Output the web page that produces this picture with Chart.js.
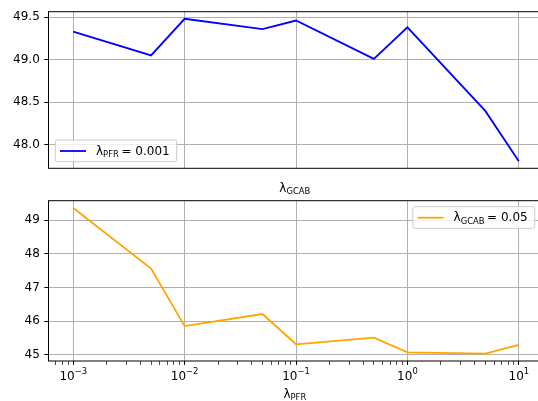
<!DOCTYPE html>
<html>
<head>
<meta charset="utf-8">
<script src="https://cdn.jsdelivr.net/npm/chart.js@4.4.1/dist/chart.umd.min.js"></script>
<style>
html, body { margin: 0; padding: 0; background: #fff; overflow: hidden; }
#marco { position: relative; width: 538px; height: 401px; overflow: hidden; }
canvas { position: absolute; left: 0; top: 0; }
</style>
</head>
<body>
<div id="marco">
  <canvas id="graficaArriba" width="545" height="401"></canvas>
  <canvas id="graficaAbajo" width="545" height="401"></canvas>
</div>
<script>
// Datos
const lambdas = [0.001, 0.005, 0.01, 0.05, 0.1, 0.5, 1, 5, 10];
const valoresArriba = [49.33, 49.05, 49.48, 49.36, 49.46, 49.01, 49.38, 48.40, 47.81]; // λPFR = 0.001
const valoresAbajo = [49.36, 47.56, 45.85, 46.21, 45.31, 45.51, 45.07, 45.03, 45.29]; // λGCAB = 0.05
const xDecadas = [0.001, 0.01, 0.1, 1, 10];
const xExponentes = ['−3', '−2', '−1', '0', '1'];
const yTicksArriba = [48.0, 48.5, 49.0, 49.5];
const yTicksAbajo = [45, 46, 47, 48, 49];

const FUENTE = '"DejaVu Sans", sans-serif';
const TAM = 12;
const TAM_SUB = 8.4;
const X_MIN = Math.pow(10, -3.2);
const X_MAX = Math.pow(10, 1.2);

// Márgenes de 5% como matplotlib
function rango(valores) {
    const min = Math.min(...valores), max = Math.max(...valores);
    const m = (max - min) * 0.05;
    return { min: min - m, max: max + m };
}

// Ticks del eje logarítmico (mayores en cada década y menores 2..9)
function ticksLog(conMenores) {
    const ticks = [];
    for (let d = -4; d <= 1; d++) {
        for (let k = 1; k <= 9; k++) {
            if (k > 1 && !conMenores) continue;
            const v = k * Math.pow(10, d);
            if (v >= X_MIN && v <= X_MAX) ticks.push({ value: v, mayor: k === 1 });
        }
    }
    return ticks;
}

// Texto con subíndices / superíndices
function anchoTexto(ctx, partes) {
    let w = 0;
    partes.forEach(p => {
        ctx.font = p.size + 'px ' + FUENTE;
        w += ctx.measureText(p.t).width;
    });
    return w;
}
function dibujarTexto(ctx, partes, x, y) {
    ctx.fillStyle = '#000';
    ctx.textAlign = 'left';
    ctx.textBaseline = 'alphabetic';
    partes.forEach(p => {
        ctx.font = p.size + 'px ' + FUENTE;
        ctx.fillText(p.t, x, y + (p.dy || 0));
        x += ctx.measureText(p.t).width;
    });
}

// Plugin: marco, etiquetas 10^n, etiqueta del eje con subíndice y leyenda
const extras = {
    id: 'extras',
    afterDraw(chart, args, opts) {
        const ctx = chart.ctx;
        const a = chart.chartArea;
        ctx.save();
        ctx.strokeStyle = '#000';
        ctx.lineWidth = 1;
        ctx.strokeRect(a.left, a.top, a.right - a.left, a.bottom - a.top);

        if (opts.ticksX) {
            const escala = chart.scales.x;
            xDecadas.forEach((d, i) => {
                const partes = [{ t: '10', size: TAM }, { t: xExponentes[i], size: TAM_SUB, dy: -5.5 }];
                const w = anchoTexto(ctx, partes);
                dibujarTexto(ctx, partes, escala.getPixelForValue(d) - w / 2, a.bottom + 18.5);
            });
        }

        if (opts.etiqueta) {
            const w = anchoTexto(ctx, opts.etiqueta);
            dibujarTexto(ctx, opts.etiqueta, (a.left + a.right) / 2 - w / 2, a.bottom + opts.etiquetaDy);
        }

        if (opts.leyenda) {
            const wTexto = anchoTexto(ctx, opts.leyenda);
            const ancho = 4.7 + 26 + 10 + wTexto + 7;
            const alto = 21.7;
            let x, y;
            if (opts.posicion === 'abajo-izq') {
                x = a.left + 6.8;
                y = a.bottom - 6.6 - alto;
            } else {
                x = a.right - 6.4 - ancho;
                y = a.top + 6;
            }
            ctx.beginPath();
            ctx.roundRect(x, y, ancho, alto, 2);
            ctx.fillStyle = 'rgba(255,255,255,0.8)';
            ctx.fill();
            ctx.strokeStyle = '#cccccc';
            ctx.lineWidth = 1;
            ctx.stroke();

            ctx.beginPath();
            ctx.moveTo(x + 4.7, y + 11);
            ctx.lineTo(x + 30.7, y + 11);
            ctx.strokeStyle = opts.color;
            ctx.lineWidth = 1.8;
            ctx.stroke();

            dibujarTexto(ctx, opts.leyenda, x + 40.7, y + 14.5);
        }
        ctx.restore();
    }
};

function crearGrafica(id, valores, color, yTicks, decimales, esAbajo, extrasOpts) {
    const r = rango(valores);
    const ctx = document.getElementById(id).getContext('2d');
    return new Chart(ctx, {
        type: 'line',
        data: {
            datasets: [{
                data: lambdas.map((l, i) => ({ x: l, y: valores[i] })),
                borderColor: color,
                borderWidth: 1.8,
                pointRadius: 0,
                tension: 0,
                fill: false
            }]
        },
        options: {
            responsive: false,
            animation: false,
            devicePixelRatio: 1,
            layout: { padding: { top: esAbajo ? 200.7 : 7.7, right: 3.9, left: 0, bottom: 0 } },
            plugins: {
                legend: { display: false },
                tooltip: { enabled: false },
                extras: extrasOpts
            },
            scales: {
                x: {
                    type: 'logarithmic',
                    min: X_MIN,
                    max: X_MAX,
                    afterBuildTicks: s => { s.ticks = ticksLog(esAbajo); },
                    afterFit: s => { s.height = esAbajo ? 40 : 401 - 168.3; },
                    border: { display: false },
                    grid: {
                        color: c => (c.tick && c.tick.mayor) ? '#b0b0b0' : 'rgba(0,0,0,0)',
                        lineWidth: 1,
                        drawTicks: esAbajo,
                        tickLength: c => 4,
                        tickColor: '#000',
                        tickWidth: c => (c.tick && c.tick.mayor) ? 1 : 0.7
                    },
                    ticks: { display: false, autoSkip: false }
                },
                y: {
                    type: 'linear',
                    min: r.min,
                    max: r.max,
                    afterBuildTicks: s => { s.ticks = yTicks.map(v => ({ value: v })); },
                    afterFit: s => { s.width = 48.5; },
                    border: { display: false },
                    grid: {
                        color: '#b0b0b0',
                        lineWidth: 1,
                        tickLength: 4.2,
                        tickColor: '#000',
                        tickWidth: 1
                    },
                    ticks: {
                        padding: 4.5,
                        color: '#000',
                        font: { family: FUENTE, size: TAM },
                        callback: v => v.toFixed(decimales)
                    }
                }
            }
        },
        plugins: [extras]
    });
}

crearGrafica('graficaArriba', valoresArriba, '#0000ff', yTicksArriba, 1, false, {
    color: '#0000ff',
    posicion: 'abajo-izq',
    leyenda: [{ t: 'λ', size: TAM }, { t: 'PFR', size: TAM_SUB, dy: 2.3 }, { t: ' ', size: TAM_SUB }, { t: '= 0.001', size: TAM }],
    etiqueta: [{ t: 'λ', size: TAM }, { t: 'GCAB', size: TAM_SUB, dy: 2.3 }],
    etiquetaDy: 23.4
});

crearGrafica('graficaAbajo', valoresAbajo, '#ffa500', yTicksAbajo, 0, true, {
    color: '#ffa500',
    posicion: 'arriba-der',
    ticksX: true,
    leyenda: [{ t: 'λ', size: TAM }, { t: 'GCAB', size: TAM_SUB, dy: 2.3 }, { t: ' ', size: TAM_SUB }, { t: '= 0.05', size: TAM }],
    etiqueta: [{ t: 'λ', size: TAM }, { t: 'PFR', size: TAM_SUB, dy: 2.3 }],
    etiquetaDy: 37
});
</script>
</body>
</html>
